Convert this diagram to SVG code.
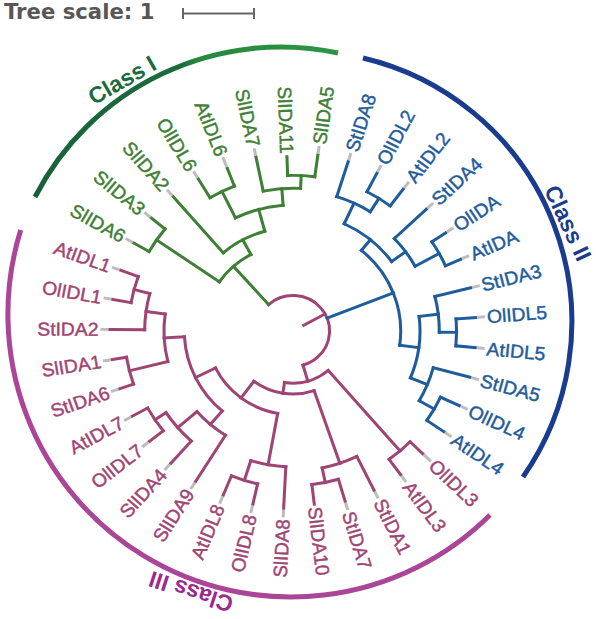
<svg xmlns="http://www.w3.org/2000/svg" width="596" height="619" viewBox="0 0 596 619">
<style>
.g{stroke:#3f7f36}.b{stroke:#1f5c9c}.m{stroke:#9f4574}.gr{stroke:#bdbdbd}
.t{font-family:"Liberation Sans",Arial,Helvetica,sans-serif;font-size:19px;stroke-width:0.45px}
.L{text-anchor:end}
.tg{fill:#3f7f36;stroke:#3f7f36}.tb{fill:#1f5c9c;stroke:#1f5c9c}.tm{fill:#9f4574;stroke:#9f4574}
.cl{font-family:"Liberation Sans",Arial,Helvetica,sans-serif;font-size:23px;font-weight:bold;text-anchor:middle}
</style>
<defs>
<linearGradient id="gg" gradientUnits="userSpaceOnUse" x1="35" y1="0" x2="338" y2="0">
<stop offset="0" stop-color="#17613a"/><stop offset="0.48" stop-color="#1c6d3d"/><stop offset="0.54" stop-color="#27883f"/><stop offset="1" stop-color="#2d9443"/>
</linearGradient>
</defs>
<rect width="596" height="619" fill="#fff"/>
<g id="scale">
<text x="4" y="19" font-family="DejaVu Sans,Verdana,sans-serif" font-weight="bold" font-size="21.2" fill="#575757">Tree scale: 1</text>
<path d="M183 13.5H254M183 8V19M254 8V19" stroke="#666" stroke-width="2" fill="none"/>
</g>
<g id="class-arcs" fill="none" stroke-width="5">
<path id="arc-classI" d="M35 197A276.4 276.4 0 0 1 338 53" stroke="url(#gg)"/>
<path id="arc-classII" d="M363 58A271 271 0 0 1 523 477" stroke="#1a3c8e"/>
<path id="arc-classIII" d="M20.7 230A282.9 282.9 0 0 0 490 515" stroke="#ab4597"/>
</g>
<g id="class-labels">
<text class="cl" fill="#1b6b42" font-size="24" transform="translate(122,80) rotate(-30)" dy=".35em">Class I</text>
<text class="cl" fill="#1b3b8b" font-size="22" transform="translate(568,223) rotate(65)" dy=".35em">Class II</text>
<text class="cl" fill="#9b2a8e" transform="translate(191,592) rotate(198)" dy=".35em">Class III</text>
</g>
<g id="tree" transform="translate(293,331) scale(1.016,0.985)">
<g id="leaves" class="t">
<g id="StIDA2"><line class="gr" x1="180" x2="189.5" transform="rotate(180.5)" stroke-width="3"/><text class="tm L" transform="rotate(0.5)" x="-191.5" dy=".35em">StIDA2</text></g>
<g id="OlIDL1"><line class="gr" x1="180" x2="189.5" transform="rotate(190.23)" stroke-width="3"/><text class="tm L" transform="rotate(10.23)" x="-191.5" dy=".35em">OlIDL1</text></g>
<g id="AtIDL1"><line class="gr" x1="180" x2="189.5" transform="rotate(199.96)" stroke-width="3"/><text class="tm L" transform="rotate(19.96)" x="-191.5" dy=".35em">AtIDL1</text></g>
<g id="SlIDA6"><line class="gr" x1="180" x2="189.5" transform="rotate(209.69)" stroke-width="3"/><text class="tg L" transform="rotate(29.69)" x="-191.5" dy=".35em">SlIDA6</text></g>
<g id="SlIDA3"><line class="gr" x1="180" x2="189.5" transform="rotate(219.42)" stroke-width="3"/><text class="tg L" transform="rotate(39.42)" x="-191.5" dy=".35em">SlIDA3</text></g>
<g id="SlIDA2"><line class="gr" x1="180" x2="189.5" transform="rotate(229.15)" stroke-width="3"/><text class="tg L" transform="rotate(49.15)" x="-191.5" dy=".35em">SlIDA2</text></g>
<g id="OlIDL6"><line class="gr" x1="180" x2="189.5" transform="rotate(238.88)" stroke-width="3"/><text class="tg L" transform="rotate(58.88)" x="-191.5" dy=".35em">OlIDL6</text></g>
<g id="AtIDL6"><line class="gr" x1="177" x2="189.5" transform="rotate(248.61)" stroke-width="3"/><text class="tg L" transform="rotate(68.61)" x="-191.5" dy=".35em">AtIDL6</text></g>
<g id="SlIDA7"><line class="gr" x1="180" x2="189.5" transform="rotate(258.34)" stroke-width="3"/><text class="tg L" transform="rotate(78.34)" x="-191.5" dy=".35em">SlIDA7</text></g>
<g id="SlIDA11"><text class="tg L" transform="rotate(88.07)" x="-180" dy=".35em">SlIDA11</text></g>
<g id="SlIDA5"><line class="gr" x1="180" x2="189.5" transform="rotate(277.8)" stroke-width="3"/><text class="tg" transform="rotate(-82.2)" x="191.5" dy=".35em">SlIDA5</text></g>
<g id="StIDA8"><line class="gr" x1="180" x2="189.5" transform="rotate(287.53)" stroke-width="3"/><text class="tb" transform="rotate(-72.47)" x="191.5" dy=".35em">StIDA8</text></g>
<g id="OlIDL2"><line class="gr" x1="180" x2="189.5" transform="rotate(297.26)" stroke-width="3"/><text class="tb" transform="rotate(-62.74)" x="191.5" dy=".35em">OlIDL2</text></g>
<g id="AtIDL2"><line class="gr" x1="180" x2="189.5" transform="rotate(306.99)" stroke-width="3"/><text class="tb" transform="rotate(-53.01)" x="191.5" dy=".35em">AtIDL2</text></g>
<g id="StIDA4"><line class="gr" x1="180" x2="189.5" transform="rotate(316.72)" stroke-width="3"/><text class="tb" transform="rotate(-43.28)" x="191.5" dy=".35em">StIDA4</text></g>
<g id="OlIDA"><line class="gr" x1="180" x2="189.5" transform="rotate(326.45)" stroke-width="3"/><text class="tb" transform="rotate(-33.55)" x="191.5" dy=".35em">OlIDA</text></g>
<g id="AtIDA"><line class="gr" x1="180" x2="189.5" transform="rotate(336.18)" stroke-width="3"/><text class="tb" transform="rotate(-23.82)" x="191.5" dy=".35em">AtIDA</text></g>
<g id="StIDA3"><line class="gr" x1="180" x2="189.5" transform="rotate(345.91)" stroke-width="3"/><text class="tb" transform="rotate(-14.09)" x="191.5" dy=".35em">StIDA3</text></g>
<g id="OlIDL5"><line class="gr" x1="180" x2="189.5" transform="rotate(355.64)" stroke-width="3"/><text class="tb" transform="rotate(-4.36)" x="191.5" dy=".35em">OlIDL5</text></g>
<g id="AtIDL5"><line class="gr" x1="180" x2="189.5" transform="rotate(5.36)" stroke-width="3"/><text class="tb" transform="rotate(5.36)" x="191.5" dy=".35em">AtIDL5</text></g>
<g id="StIDA5"><line class="gr" x1="180" x2="189.5" transform="rotate(15.09)" stroke-width="3"/><text class="tb" transform="rotate(15.09)" x="191.5" dy=".35em">StIDA5</text></g>
<g id="OlIDL4"><line class="gr" x1="180" x2="189.5" transform="rotate(24.82)" stroke-width="3"/><text class="tb" transform="rotate(24.82)" x="191.5" dy=".35em">OlIDL4</text></g>
<g id="AtIDL4"><line class="gr" x1="180" x2="189.5" transform="rotate(34.55)" stroke-width="3"/><text class="tb" transform="rotate(34.55)" x="191.5" dy=".35em">AtIDL4</text></g>
<g id="OlIDL3"><line class="gr" x1="178" x2="189.5" transform="rotate(44.28)" stroke-width="3"/><text class="tm" transform="rotate(44.28)" x="191.5" dy=".35em">OlIDL3</text></g>
<g id="AtIDL3"><line class="gr" x1="180" x2="189.5" transform="rotate(54.01)" stroke-width="3"/><text class="tm" transform="rotate(54.01)" x="191.5" dy=".35em">AtIDL3</text></g>
<g id="StIDA1"><line class="gr" x1="180" x2="189.5" transform="rotate(63.74)" stroke-width="3"/><text class="tm" transform="rotate(63.74)" x="191.5" dy=".35em">StIDA1</text></g>
<g id="StIDA7"><line class="gr" x1="180" x2="189.5" transform="rotate(73.47)" stroke-width="3"/><text class="tm" transform="rotate(73.47)" x="191.5" dy=".35em">StIDA7</text></g>
<g id="SlIDA10"><text class="tm" transform="rotate(83.2)" x="180" dy=".35em">SlIDA10</text></g>
<g id="SlIDA8"><line class="gr" x1="180" x2="189.5" transform="rotate(92.93)" stroke-width="3"/><text class="tm L" transform="rotate(-87.07)" x="-191.5" dy=".35em">SlIDA8</text></g>
<g id="OlIDL8"><line class="gr" x1="180" x2="189.5" transform="rotate(102.66)" stroke-width="3"/><text class="tm L" transform="rotate(-77.34)" x="-191.5" dy=".35em">OlIDL8</text></g>
<g id="AtIDL8"><line class="gr" x1="180" x2="189.5" transform="rotate(112.39)" stroke-width="3"/><text class="tm L" transform="rotate(-67.61)" x="-191.5" dy=".35em">AtIDL8</text></g>
<g id="SlIDA9"><line class="gr" x1="180" x2="189.5" transform="rotate(122.12)" stroke-width="3"/><text class="tm L" transform="rotate(-57.88)" x="-191.5" dy=".35em">SlIDA9</text></g>
<g id="SlIDA4"><line class="gr" x1="180" x2="189.5" transform="rotate(131.85)" stroke-width="3"/><text class="tm L" transform="rotate(-48.15)" x="-191.5" dy=".35em">SlIDA4</text></g>
<g id="OlIDL7"><line class="gr" x1="180" x2="189.5" transform="rotate(141.58)" stroke-width="3"/><text class="tm L" transform="rotate(-38.42)" x="-191.5" dy=".35em">OlIDL7</text></g>
<g id="AtIDL7"><line class="gr" x1="180" x2="189.5" transform="rotate(151.31)" stroke-width="3"/><text class="tm L" transform="rotate(-28.69)" x="-191.5" dy=".35em">AtIDL7</text></g>
<g id="StIDA6"><line class="gr" x1="180" x2="189.5" transform="rotate(161.04)" stroke-width="3"/><text class="tm L" transform="rotate(-18.96)" x="-191.5" dy=".35em">StIDA6</text></g>
<g id="SlIDA1"><line class="gr" x1="180" x2="189.5" transform="rotate(170.77)" stroke-width="3"/><text class="tm L" transform="rotate(-9.23)" x="-191.5" dy=".35em">SlIDA1</text></g>
</g>
<g id="connectors" fill="none" stroke-width="3" stroke-linecap="square">
<circle class="m" r="36" transform="rotate(228.24)" stroke-dasharray="129.33 9999"/>
<line class="m" x1="12" x2="36" transform="rotate(331.16)"/>
<line class="g" x1="36" x2="88" transform="rotate(228.24)"/>
<circle class="g" r="88" transform="rotate(214.555)" stroke-dasharray="42.03 9999"/>
<line class="g" x1="88" x2="163" transform="rotate(214.555)"/>
<circle class="g" r="163" transform="rotate(209.69)" stroke-dasharray="27.68 9999"/>
<line class="g" x1="163" x2="180" transform="rotate(209.69)"/>
<line class="g" x1="163" x2="180" transform="rotate(219.42)"/>
<line class="g" x1="88" x2="105" transform="rotate(241.92)"/>
<circle class="g" r="105" transform="rotate(229.15)" stroke-dasharray="46.80 9999"/>
<line class="g" x1="105" x2="180" transform="rotate(229.15)"/>
<line class="g" x1="105" x2="128" transform="rotate(254.69)"/>
<circle class="g" r="128" transform="rotate(243.745)" stroke-dasharray="48.91 9999"/>
<line class="g" x1="128" x2="158" transform="rotate(243.745)"/>
<circle class="g" r="158" transform="rotate(238.88)" stroke-dasharray="26.83 9999"/>
<line class="g" x1="158" x2="180" transform="rotate(238.88)"/>
<line class="g" x1="158" x2="177" transform="rotate(248.61)"/>
<line class="g" x1="128" x2="145" transform="rotate(265.64)"/>
<circle class="g" r="145" transform="rotate(258.34)" stroke-dasharray="36.94 9999"/>
<line class="g" x1="145" x2="180" transform="rotate(258.34)"/>
<line class="g" x1="145" x2="158" transform="rotate(272.935)"/>
<circle class="g" r="158" transform="rotate(268.07)" stroke-dasharray="26.83 9999"/>
<line class="g" x1="158" x2="177" transform="rotate(268.07)"/>
<line class="g" x1="158" x2="180" transform="rotate(277.8)"/>
<line class="b" x1="36" x2="106" transform="rotate(338.61)"/>
<circle class="b" r="106" transform="rotate(309.42)" stroke-dasharray="108.01 9999"/>
<line class="b" x1="106" x2="120" transform="rotate(309.42)"/>
<circle class="b" r="120" transform="rotate(294.83)" stroke-dasharray="61.14 9999"/>
<line class="b" x1="120" x2="143" transform="rotate(294.83)"/>
<circle class="b" r="143" transform="rotate(287.53)" stroke-dasharray="36.43 9999"/>
<line class="b" x1="143" x2="180" transform="rotate(287.53)"/>
<line class="b" x1="143" x2="159" transform="rotate(302.125)"/>
<circle class="b" r="159" transform="rotate(297.26)" stroke-dasharray="27.00 9999"/>
<line class="b" x1="159" x2="180" transform="rotate(297.26)"/>
<line class="b" x1="159" x2="180" transform="rotate(306.99)"/>
<line class="b" x1="120" x2="137" transform="rotate(324.02)"/>
<circle class="b" r="137" transform="rotate(316.72)" stroke-dasharray="34.90 9999"/>
<line class="b" x1="137" x2="180" transform="rotate(316.72)"/>
<line class="b" x1="137" x2="164" transform="rotate(331.315)"/>
<circle class="b" r="164" transform="rotate(326.45)" stroke-dasharray="27.85 9999"/>
<line class="b" x1="164" x2="180" transform="rotate(326.45)"/>
<line class="b" x1="164" x2="180" transform="rotate(336.18)"/>
<line class="b" x1="106" x2="125" transform="rotate(367.8)"/>
<circle class="b" r="125" transform="rotate(353.2)" stroke-dasharray="63.68 9999"/>
<line class="b" x1="125" x2="144" transform="rotate(353.2)"/>
<circle class="b" r="144" transform="rotate(345.91)" stroke-dasharray="36.67 9999"/>
<line class="b" x1="144" x2="180" transform="rotate(345.91)"/>
<line class="b" x1="144" x2="161" transform="rotate(360.5)"/>
<circle class="b" r="161" transform="rotate(355.64)" stroke-dasharray="27.31 9999"/>
<line class="b" x1="161" x2="180" transform="rotate(355.64)"/>
<line class="b" x1="161" x2="180" transform="rotate(365.36)"/>
<line class="b" x1="125" x2="143" transform="rotate(382.39)"/>
<circle class="b" r="143" transform="rotate(375.09)" stroke-dasharray="36.43 9999"/>
<line class="b" x1="143" x2="180" transform="rotate(375.09)"/>
<line class="b" x1="143" x2="160" transform="rotate(389.685)"/>
<circle class="b" r="160" transform="rotate(384.82)" stroke-dasharray="27.17 9999"/>
<line class="b" x1="160" x2="180" transform="rotate(384.82)"/>
<line class="b" x1="160" x2="180" transform="rotate(394.55)"/>
<line class="m" x1="36" x2="53" transform="rotate(434.08)"/>
<circle class="m" r="53" transform="rotate(409.145)" stroke-dasharray="46.13 9999"/>
<line class="m" x1="53" x2="161" transform="rotate(409.145)"/>
<circle class="m" r="161" transform="rotate(404.28)" stroke-dasharray="27.34 9999"/>
<line class="m" x1="161" x2="178" transform="rotate(404.28)"/>
<line class="m" x1="161" x2="180" transform="rotate(414.01)"/>
<line class="m" x1="53" x2="64" transform="rotate(459.01)"/>
<circle class="m" r="64" transform="rotate(431.04)" stroke-dasharray="62.50 9999"/>
<line class="m" x1="64" x2="142" transform="rotate(431.04)"/>
<circle class="m" r="142" transform="rotate(423.74)" stroke-dasharray="36.17 9999"/>
<line class="m" x1="142" x2="180" transform="rotate(423.74)"/>
<line class="m" x1="142" x2="157" transform="rotate(438.335)"/>
<circle class="m" r="157" transform="rotate(433.47)" stroke-dasharray="26.66 9999"/>
<line class="m" x1="157" x2="180" transform="rotate(433.47)"/>
<line class="m" x1="157" x2="177" transform="rotate(443.2)"/>
<line class="m" x1="64" x2="85" transform="rotate(486.99)"/>
<circle class="m" r="85" transform="rotate(460.23)" stroke-dasharray="79.38 9999"/>
<line class="m" x1="85" x2="138" transform="rotate(460.23)"/>
<circle class="m" r="138" transform="rotate(452.93)" stroke-dasharray="35.15 9999"/>
<line class="m" x1="138" x2="180" transform="rotate(452.93)"/>
<line class="m" x1="138" x2="159" transform="rotate(467.525)"/>
<circle class="m" r="159" transform="rotate(462.66)" stroke-dasharray="27.00 9999"/>
<line class="m" x1="159" x2="180" transform="rotate(462.66)"/>
<line class="m" x1="159" x2="180" transform="rotate(472.39)"/>
<line class="m" x1="85" x2="107" transform="rotate(513.74)"/>
<circle class="m" r="107" transform="rotate(490.635)" stroke-dasharray="86.31 9999"/>
<line class="m" x1="107" x2="125" transform="rotate(490.635)"/>
<circle class="m" r="125" transform="rotate(482.12)" stroke-dasharray="37.15 9999"/>
<line class="m" x1="125" x2="180" transform="rotate(482.12)"/>
<line class="m" x1="125" x2="150" transform="rotate(499.15)"/>
<circle class="m" r="150" transform="rotate(491.85)" stroke-dasharray="38.21 9999"/>
<line class="m" x1="150" x2="180" transform="rotate(491.85)"/>
<line class="m" x1="150" x2="163" transform="rotate(506.445)"/>
<circle class="m" r="163" transform="rotate(501.58)" stroke-dasharray="27.68 9999"/>
<line class="m" x1="163" x2="180" transform="rotate(501.58)"/>
<line class="m" x1="163" x2="180" transform="rotate(511.31)"/>
<line class="m" x1="107" x2="127" transform="rotate(536.85)"/>
<circle class="m" r="127" transform="rotate(525.905)" stroke-dasharray="48.53 9999"/>
<line class="m" x1="127" x2="166" transform="rotate(525.905)"/>
<circle class="m" r="166" transform="rotate(521.04)" stroke-dasharray="28.19 9999"/>
<line class="m" x1="166" x2="180" transform="rotate(521.04)"/>
<line class="m" x1="166" x2="180" transform="rotate(530.77)"/>
<line class="m" x1="127" x2="146" transform="rotate(547.8)"/>
<circle class="m" r="146" transform="rotate(540.5)" stroke-dasharray="37.19 9999"/>
<line class="m" x1="146" x2="180" transform="rotate(540.5)"/>
<line class="m" x1="146" x2="162" transform="rotate(555.095)"/>
<circle class="m" r="162" transform="rotate(550.23)" stroke-dasharray="27.51 9999"/>
<line class="m" x1="162" x2="180" transform="rotate(550.23)"/>
<line class="m" x1="162" x2="180" transform="rotate(559.96)"/>
</g>
</g>
</svg>
